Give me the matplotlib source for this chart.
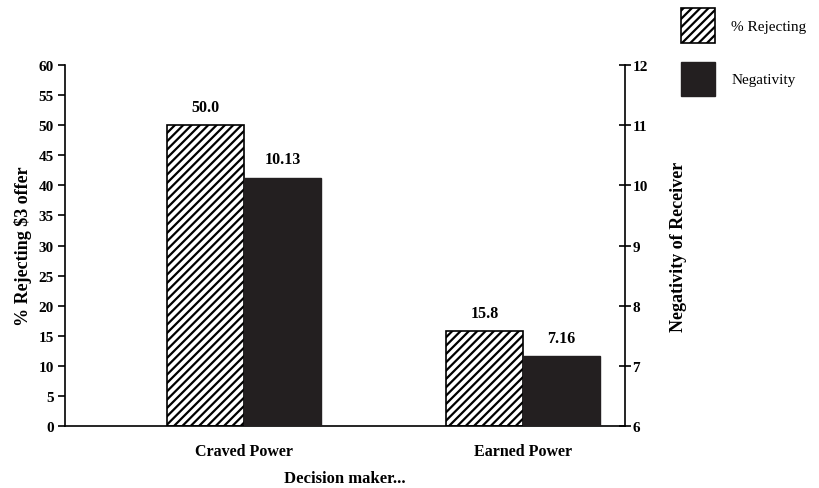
import matplotlib.pyplot as plt
import numpy as np

# data
categories = ["Craved Power", "Earned Power"]
pct_rejecting = [50.0, 15.8]
negativity = [10.13, 7.16]
pct_labels = ["50.0", "15.8"]
neg_labels = ["10.13", "7.16"]

plt.rcParams['font.family'] = 'Liberation Serif'
plt.rcParams['hatch.linewidth'] = 1.6
dark = '#231f20'
font_b = {'weight': 'bold', 'size': 11.5}

fig = plt.figure(figsize=(8.2, 4.89), dpi=100)
ax = fig.add_axes([0.0793, 0.1268, 0.6827, 0.7382])
ax2 = ax.twinx()

x = np.arange(len(categories))
w = 0.276

b1 = ax.bar(x - w / 2, pct_rejecting, w, color='white', edgecolor='black',
            hatch='////', linewidth=1.2, label='% Rejecting')
b2 = ax2.bar(x + w / 2, np.array(negativity) - 6, w, bottom=6, color=dark,
             edgecolor=dark, linewidth=1.0, label='Negativity')

for xi, v, s in zip(x, pct_rejecting, pct_labels):
    ax.text(xi - w / 2, v + 1.7, s, ha='center', va='bottom', **font_b)
for xi, v, s in zip(x, negativity, neg_labels):
    ax2.text(xi + w / 2, v + 0.17, s, ha='center', va='bottom', **font_b)

ax.set_xlim(-0.6416, 1.3656)
ax.set_ylim(0, 60)
ax.set_yticks(np.arange(0, 61, 5))
ax2.set_ylim(6, 12)
ax2.set_yticks(np.arange(6, 13, 1))

ax.set_xticks(x)
ax.set_xticklabels(categories, **font_b)
ax.tick_params(axis='x', length=0, pad=12)
ax.tick_params(axis='y', direction='out', length=5, width=1.2, pad=3)
ax2.tick_params(axis='y', direction='inout', length=9, width=1.2, pad=1)
for lab in ax.get_yticklabels() + ax2.get_yticklabels():
    lab.set_fontweight('bold')
    lab.set_fontsize(11)

for a in (ax, ax2):
    a.spines['top'].set_visible(False)
    for s in ('left', 'right', 'bottom'):
        a.spines[s].set_linewidth(1.2)
ax.spines['right'].set_visible(False)
ax2.spines['left'].set_visible(False)
ax2.spines['bottom'].set_visible(False)

ax.set_ylabel('% Rejecting $3 offer', fontweight='bold', fontsize=13, labelpad=5)
ax2.set_ylabel('Negativity of Receiver', fontweight='bold', fontsize=13,
               rotation=90, labelpad=16)
ax.set_xlabel('Decision maker...', fontweight='bold', fontsize=12, labelpad=8)

fig.legend(handles=[b1, b2], labels=['% Rejecting', 'Negativity'],
           loc='upper left', bbox_to_anchor=(0.823, 0.994), frameon=False,
           borderaxespad=0, fontsize=11, handlelength=2.25, handleheight=3.1,
           labelspacing=1.25, handletextpad=1.05)

fig.savefig('out.png', dpi=100)
